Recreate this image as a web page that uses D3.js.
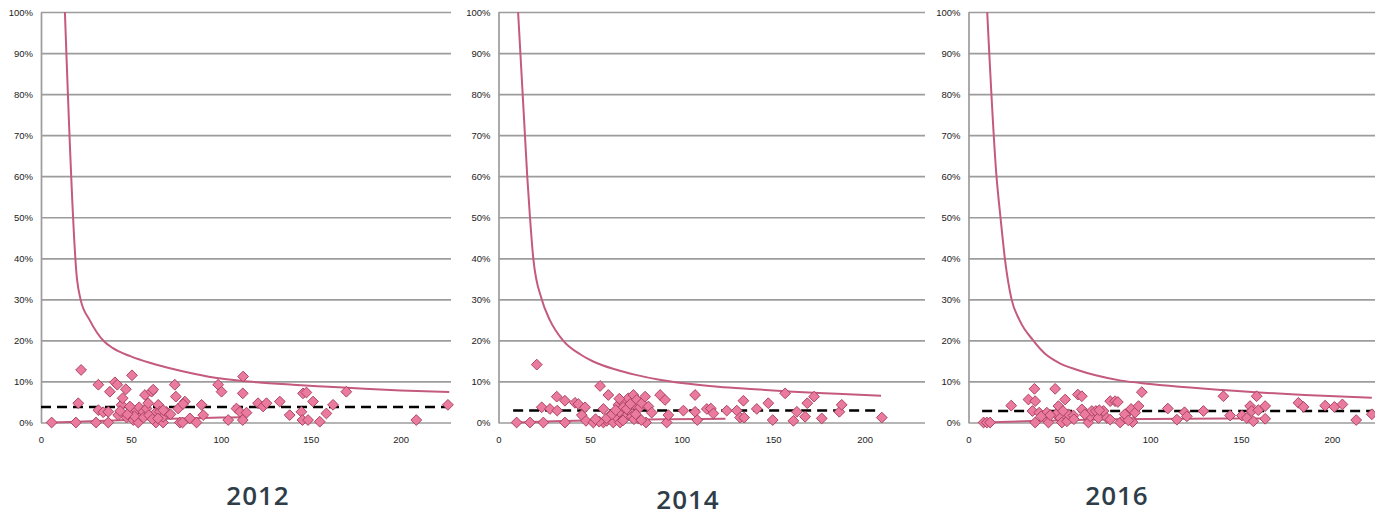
<!DOCTYPE html>
<html>
<head>
<meta charset="utf-8">
<script src="https://cdn.jsdelivr.net/npm/d3@7"></script>
<style>
  body { margin: 0; background: #fff; }
  .tick text { font-family: "Liberation Sans", Arial, sans-serif; font-size: 9.5px; fill: #222; }
  .title { font-family: "Open Sans", sans-serif; font-weight: 600; font-size: 26px; fill: #2e3d48; letter-spacing: 1px; }
</style>
</head>
<body>
<div id="chart"></div>
<script>
var years = ["2012", "2014", "2016"];
var yTicks = [0, 10, 20, 30, 40, 50, 60, 70, 80, 90, 100];
var xTicks = [0, 50, 100, 150, 200];

// average rate (dashed line) and its span on the x axis
var meanRate = [3.8, 2.9, 2.8];
var meanSpan = [[0, 227], [8, 209], [7.5, 223]];

// upper limit of the funnel, [n, %]
var ucl2012 = [[13.3,100],[20,35],[22,30],[27,25],[31,22],[35,19.8],[40,18.1],[50,16.1],[60,14.6],[70,13.4],[85,11.9],[100,10.7],[120,9.8],[140,9.2],[160,8.7],[180,8.2],[200,7.8],[227,7.4]];
var ucl2014 = [[10.7,100],[15.7,60],[17.2,50],[19,40],[23.6,30],[28,25],[35.2,20],[45,16.5],[52,14.8],[64,12.9],[75,11.6],[88,10.4],[100,9.6],[120,8.7],[140,8.1],[161,7.5],[185,7],[209,6.5]];
var ucl2016 = [[10.3,100],[15.4,60],[17.6,50],[20,40],[23.7,30],[28,25],[35.6,20],[42,16.8],[49.5,14.6],[60,12.8],[70,11.5],[84,10.2],[100,9.4],[122,8.5],[140,7.9],[160,7.3],[185,6.7],[222,6]];

// lower limit
var lcl2012 = [[5.9,0],[20,0.2],[40,0.5],[60,0.8],[80,1],[100,1.2],[111,1.3]];
var lcl2014 = [[9.9,0],[30,0.3],[60,0.6],[90,0.8],[124,0.9]];
var lcl2016 = [[8.3,0],[40,0.4],[80,0.8],[120,0.9],[163,1]];

// units, [n, %]
var pts2012 = [[5.9,0],[19.4,0],[20.7,4.7],[22.3,12.8],[30.6,0],[31.9,9.2],[31.9,3],[34.6,2.5],[37.4,2.6],[37.4,0],[38.3,7.5],[41.1,9.8],[42.4,9.2],[42.9,1.8],[44.8,4.3],[45.4,5.9],[47.2,8.1],[50.6,11.5],[47.6,1.2],[50.4,3.4],[51.3,0.6],[53.1,3],[54.1,0],[54.6,3.7],[55.9,1.6],[56.9,2.6],[57.8,6.7],[58.7,3.4],[59.6,4.7],[61.5,7.5],[62.4,8],[63.3,2.2],[63.9,0],[65.2,4.3],[66.1,2.6],[67.9,0],[67.9,1.4],[69.8,2.6],[74.4,9.2],[75,6.3],[76.3,3.4],[77.2,0],[78.7,0],[80,5.1],[82.8,1],[86.5,0],[89.3,4.3],[90.2,1.8],[98.5,9.2],[100.4,7.5],[104.1,0.6],[108.7,3.4],[110.6,2.6],[112.4,11.2],[112.2,7.1],[112.2,0.6],[114.3,2.4],[120.7,4.7],[123.5,3.9],[125.4,4.7],[132.8,5.1],[138.3,1.8],[144.8,2.6],[145.4,0.6],[145.7,7.1],[147.6,7.3],[148.5,0.6],[151.3,5.1],[155,0.2],[158.7,2.2],[162.4,4.3],[169.8,7.5],[208.7,0.6],[226.3,4.3],[52,1.5],[57,1.2],[60,1.8],[62,0.8],[65,1],[68,3],[72,2],[48,2],[44,2.8],[49.4,3.9],[79,4.5]];
var pts2014 = [[9.9,0],[17.2,0],[20.9,14.1],[23.6,3.7],[24.5,0],[28.1,3.3],[31.8,6.3],[32.1,2.9],[36.3,5.3],[36.3,0],[41.8,4.8],[43.6,4.5],[45.5,1.8],[47.3,3.7],[47.8,0.4],[51.8,0],[55.5,8.9],[57.3,3.3],[57.3,0],[59.1,0.4],[60,6.7],[60.9,1.8],[62.7,0],[64.6,1.2],[65.5,4.3],[66,2.6],[66.4,0],[67.3,5.1],[68.2,3.7],[69.1,1.2],[70.9,5.9],[71.9,2.6],[72.8,1.4],[73.7,6.7],[74.6,4.3],[75.5,5.5],[76.4,1],[77.3,3.7],[78.3,4.7],[80.1,6.3],[80.6,0],[81.9,3.9],[83.7,2.4],[88.3,6.7],[91,5.5],[91.9,0],[92.8,1.8],[101,2.9],[107.4,6.7],[107.4,2.6],[108.6,0.6],[113.8,3.3],[116,3.4],[117.4,2.2],[124.7,2.9],[130.2,2.9],[132,1.2],[133.8,5.3],[134.2,1.2],[141.1,3.3],[147.4,4.7],[149.8,0.6],[156.6,7.1],[161.1,0.4],[163,2.6],[167.5,1.4],[168.7,4.7],[172.4,6.3],[176.6,1],[186.2,2.6],[187.5,4.3],[209.4,1.2],[59,1],[62,2],[64,3],[68,0.5],[70,3.3],[72,4.5],[74,0.8],[78,0.6],[55,0.2],[53,0.8],[66,5.8],[75,2]];
var pts2016 = [[8.3,0],[10.1,0],[11.9,0],[23.5,4.1],[33,5.6],[35.2,2.8],[36.3,8.2],[36.7,5.2],[36.7,0],[38.9,2.4],[42.2,1.1],[43.1,2.4],[44,0],[47.7,8.2],[48.1,2],[49.5,4],[50.5,1.1],[51.4,0],[53.2,5.6],[54.2,0.3],[55,2],[57.8,1.7],[60.2,6.8],[62.4,6.4],[62.4,3.2],[66,0],[67,1.5],[67.9,2.8],[70.1,2.8],[71.5,1.1],[74.3,2.8],[76.2,1.1],[78,5.2],[80.7,5.2],[82.2,5],[78,0.7],[83.5,0],[86.2,1.1],[88.1,2.5],[89.5,3.3],[90.3,0.1],[91.7,2.4],[93.6,4],[95.4,7.4],[109.7,3.4],[114.7,0.7],[118.9,2.5],[120.2,1.5],[129.3,2.8],[140.3,6.4],[144,1.7],[150.5,1.7],[153.2,1.1],[155,4],[155.9,2.8],[156.8,0.3],[158.6,6.4],[159.5,3],[163.3,4],[163.3,0.9],[181.6,4.8],[184.4,3.8],[196.3,4.1],[201.4,3.8],[205.8,4.4],[213.4,0.6],[222,2],[40,1.5],[45,1.8],[52,2.8],[58,0.8],[64,2],[72,3],[86,2],[88,0.5]];

var ucl = [ucl2012, ucl2014, ucl2016];
var lcl = [lcl2012, lcl2014, lcl2016];
var pts = [pts2012, pts2014, pts2016];

// panel layout
var panels = [
  {x0: 41,    x1: 451,  xMax: 228,   tx: 258,  ty: 505},
  {x0: 498.5, x1: 925,  xMax: 233,   tx: 688,  ty: 509},
  {x0: 968.5, x1: 1380, xMax: 226.5, tx: 1117, ty: 505}
];
var yTop = 12, yBot = 422.5;

var svg = d3.select("#chart")
  .append("svg")
  .attr("width", 1375)
  .attr("height", 518);

var lineCol = "#c45a7d";

panels.forEach(function(p, i) {
  var x = d3.scaleLinear().domain([0, p.xMax]).range([p.x0, p.x1]);
  var y = d3.scaleLinear().domain([0, 100]).range([yBot, yTop]);
  var g = svg.append("g");

  // y axis with grid
  var ya = g.append("g")
    .attr("transform", "translate(" + p.x0 + ",0)")
    .call(d3.axisLeft(y).tickValues(yTicks)
      .tickSizeInner(-(p.x1 - p.x0)).tickSizeOuter(0).tickPadding(8)
      .tickFormat(function(d) { return d + "%"; }));
  ya.selectAll(".tick line").attr("stroke", "#9c9c9c").attr("stroke-width", 1.7);
  ya.select(".domain").attr("stroke", "#9c9c9c").attr("stroke-width", 1.7);

  // x axis labels
  var xa = g.append("g")
    .attr("transform", "translate(0," + yBot + ")")
    .call(d3.axisBottom(x).tickValues(xTicks).tickSize(0).tickPadding(14));
  xa.select(".domain").remove();

  var line = d3.line()
    .x(function(d) { return x(d[0]); })
    .y(function(d) { return y(d[1]); })
    .curve(d3.curveMonotoneX);

  // average
  g.append("path")
    .attr("d", line([[meanSpan[i][0], meanRate[i]], [meanSpan[i][1], meanRate[i]]]))
    .attr("stroke", "#000")
    .attr("stroke-width", 2.5)
    .attr("stroke-dasharray", "10,6")
    .attr("fill", "none");

  // funnel limits
  [ucl[i], lcl[i]].forEach(function(lim) {
    g.append("path")
      .attr("d", line(lim))
      .attr("stroke", lineCol)
      .attr("stroke-width", 2)
      .attr("fill", "none");
  });

  // points
  g.selectAll(".pt")
    .data(pts[i])
    .enter().append("path")
    .attr("class", "pt")
    .attr("d", d3.symbol(d3.symbolSquare, 58)())
    .attr("transform", function(d) {
      return "translate(" + x(d[0]) + "," + y(d[1]) + ") rotate(45)";
    })
    .attr("fill", "#ea7a9e")
    .attr("stroke", "#a8405f")
    .attr("stroke-width", 0.9);

  svg.append("text")
    .attr("class", "title")
    .attr("x", p.tx)
    .attr("y", p.ty)
    .attr("text-anchor", "middle")
    .text(years[i]);
});
</script>
</body>
</html>
